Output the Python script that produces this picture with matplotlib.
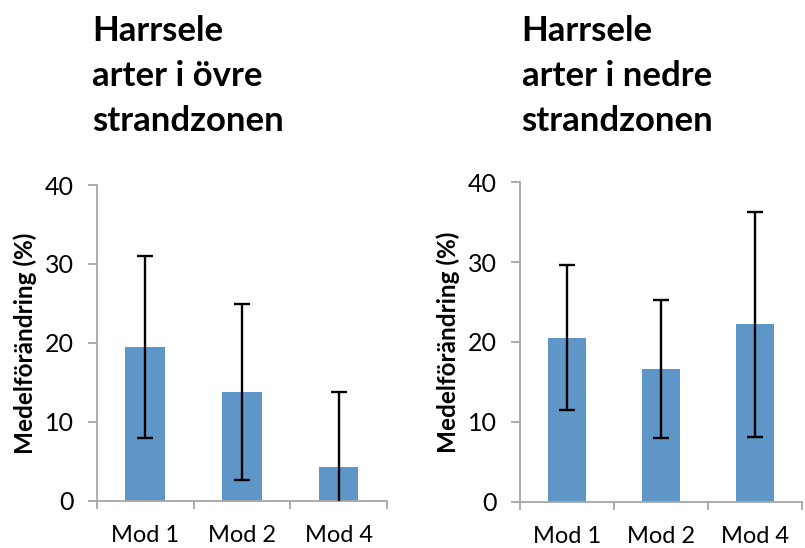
import matplotlib.pyplot as plt
import numpy as np

plt.rcParams['font.family'] = ['Lato', 'DejaVu Sans']

# Data
models = ["Mod 1", "Mod 2", "Mod 4"]
upper_mean = [19.5, 13.8, 4.35]     # arter i övre strandzonen
upper_err = [11.5, 11.1, 9.5]
lower_mean = [20.55, 16.65, 22.2]   # arter i nedre strandzonen
lower_err = [9.05, 8.65, 14.1]
titles = ["Harrsele\narter i övre\nstrandzonen", "Harrsele\narter i nedre\nstrandzonen"]

bar_color = "#5f96c8"
axis_color = "#a6a6a6"

fig = plt.figure(figsize=(8.05, 5.48), dpi=100)
ax1 = fig.add_axes([0.1205, 0.0858, 0.360, 0.5766])
ax2 = fig.add_axes([0.646, 0.0845, 0.350, 0.583])

for ax, means, errs in [(ax1, upper_mean, upper_err), (ax2, lower_mean, lower_err)]:
    x = np.arange(len(models))
    ax.bar(x, means, width=0.41, color=bar_color, zorder=2)
    ax.errorbar(x, means, yerr=errs, fmt='none', ecolor='black', elinewidth=1.7,
                capsize=6, capthick=1.7, zorder=3)
    ax.set_xlim(-0.5, len(models) - 0.5)
    ax.set_ylim(0, 40)
    ax.set_yticks([0, 10, 20, 30, 40])
    ax.set_xticks(x)
    ax.set_xticklabels(models)
    ax.set_xticks(np.arange(len(models) + 1) - 0.5, minor=True)
    ax.tick_params(axis='x', which='major', length=0, labelsize=17, pad=17.5)
    ax.tick_params(axis='x', which='minor', length=6, width=1.3, color=axis_color, direction='out')
    ax.tick_params(axis='y', length=6.5, width=1.3, color=axis_color, labelsize=18, pad=10)
    for side in ['top', 'right']:
        ax.spines[side].set_visible(False)
    for side in ['left', 'bottom']:
        ax.spines[side].set_color(axis_color)
        ax.spines[side].set_linewidth(1.3)
    ax.set_ylabel("Medelförändring (%)", fontsize=17.5, fontweight='bold', labelpad=6)

fig.text(0.114, 0.973, titles[0], fontsize=25, fontweight='bold', va='top', ha='left',
         linespacing=1.5)
fig.text(0.648, 0.973, titles[1], fontsize=25, fontweight='bold', va='top', ha='left',
         linespacing=1.5)

fig.savefig("out.png", dpi=100)
